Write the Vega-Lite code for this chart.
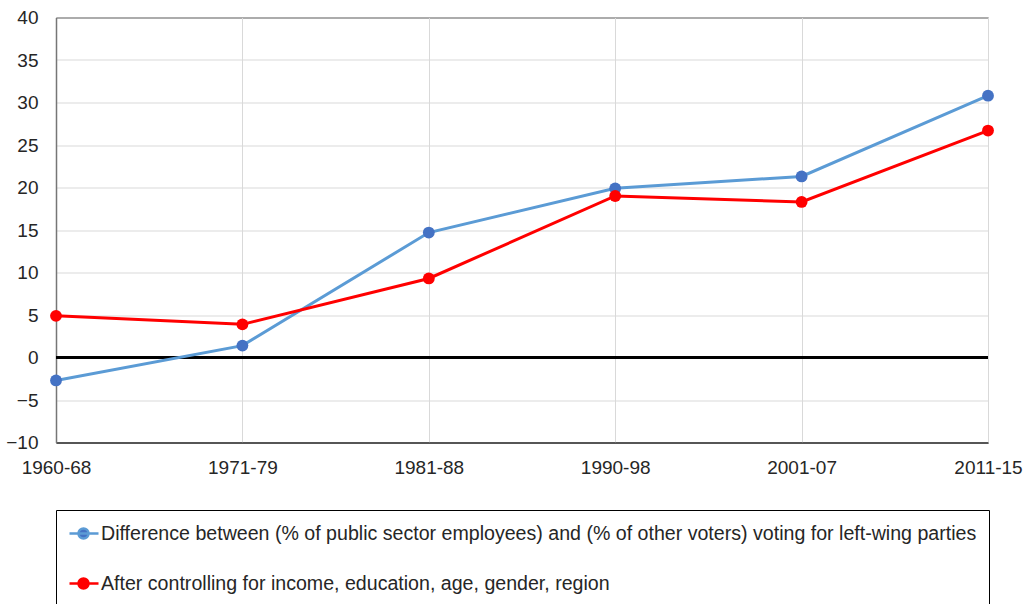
{
  "$schema": "https://vega.github.io/schema/vega-lite/v6.json",
  "width": 932,
  "height": 425,
  "autosize": {"type": "none"},
  "padding": {"left": 56, "top": 17.5, "right": 39, "bottom": 161.5},
  "background": "white",
  "config": {
    "font": "Liberation Sans",
    "view": {"stroke": "#000000", "strokeWidth": 1}
  },
  "data": {
    "values": [
      {"period": "1960-68", "series": "Difference between (% of public sector employees) and (% of other voters) voting for left-wing parties", "value": -2.7},
      {"period": "1971-79", "series": "Difference between (% of public sector employees) and (% of other voters) voting for left-wing parties", "value": 1.4},
      {"period": "1981-88", "series": "Difference between (% of public sector employees) and (% of other voters) voting for left-wing parties", "value": 14.7},
      {"period": "1990-98", "series": "Difference between (% of public sector employees) and (% of other voters) voting for left-wing parties", "value": 19.9},
      {"period": "2001-07", "series": "Difference between (% of public sector employees) and (% of other voters) voting for left-wing parties", "value": 21.3},
      {"period": "2011-15", "series": "Difference between (% of public sector employees) and (% of other voters) voting for left-wing parties", "value": 30.8},
      {"period": "1960-68", "series": "After controlling for income, education, age, gender, region", "value": 4.9},
      {"period": "1971-79", "series": "After controlling for income, education, age, gender, region", "value": 3.9},
      {"period": "1981-88", "series": "After controlling for income, education, age, gender, region", "value": 9.3},
      {"period": "1990-98", "series": "After controlling for income, education, age, gender, region", "value": 19.0},
      {"period": "2001-07", "series": "After controlling for income, education, age, gender, region", "value": 18.3},
      {"period": "2011-15", "series": "After controlling for income, education, age, gender, region", "value": 26.7}
    ]
  },
  "encoding": {
    "x": {
      "field": "period",
      "type": "ordinal",
      "sort": ["1960-68", "1971-79", "1981-88", "1990-98", "2001-07", "2011-15"],
      "scale": {"type": "point", "padding": 0},
      "axis": {
        "title": null,
        "labelAngle": 0,
        "labelFontSize": 19,
        "labelColor": "#262626",
        "labelPadding": 16,
        "ticks": false,
        "domainColor": "#000000",
        "domainWidth": 1,
        "grid": true,
        "gridColor": "#D9D9D9",
        "gridWidth": 1
      }
    },
    "y": {
      "field": "value",
      "type": "quantitative",
      "scale": {"domain": [-10, 40], "nice": false, "zero": false},
      "axis": {
        "title": null,
        "values": [-10, -5, 0, 5, 10, 15, 20, 25, 30, 35, 40],
        "labelFontSize": 19,
        "labelColor": "#262626",
        "labelPadding": 18,
        "ticks": false,
        "domainColor": "#767676",
        "domainWidth": 1.5,
        "gridColor": "#D9D9D9",
        "gridWidth": 1
      }
    }
  },
  "layer": [
    {
      "mark": {"type": "rule", "color": "#000000", "strokeWidth": 2.5},
      "encoding": {"y": {"datum": 0}, "x": {"value": 0}, "x2": {"value": 932}}
    },
    {
      "mark": {"type": "line", "strokeWidth": 3},
      "encoding": {
        "color": {
          "field": "series",
          "type": "nominal",
          "sort": ["Difference between (% of public sector employees) and (% of other voters) voting for left-wing parties", "After controlling for income, education, age, gender, region"],
          "scale": {"range": ["#5B9BD5", "#FF0000"]},
          "legend": {
            "title": null,
            "orient": "none",
            "legendX": 0,
            "legendY": 492.5,
            "direction": "vertical",
            "strokeColor": "#000000",
            "fillColor": "#FFFFFF",
            "padding": 12,
            "rowPadding": 28,
            "labelFontSize": 19.6,
            "labelColor": "#262626",
            "labelLimit": 1000,
            "labelOffset": 10,
            "symbolType": "M-1,0L1.9,0M-0.1,0A0.5,0.5 0 1,0 0.9,0A0.5,0.5 0 1,0 -0.1,0Z",
            "symbolSize": 400,
            "symbolStrokeWidth": 2.5,
            "encode": {
              "symbols": {
                "update": {
                  "fill": {"signal": "datum.label === 'After controlling for income, education, age, gender, region' ? '#FF0000' : '#4472C4'"},
                  "fillOpacity": {"value": 1}
                }
              }
            }
          }
        }
      }
    },
    {
      "mark": {"type": "point", "filled": true, "size": 140, "opacity": 1},
      "encoding": {
        "fill": {
          "field": "series",
          "type": "nominal",
          "sort": ["Difference between (% of public sector employees) and (% of other voters) voting for left-wing parties", "After controlling for income, education, age, gender, region"],
          "scale": {"range": ["#4472C4", "#FF0000"]},
          "legend": null
        }
      }
    }
  ]
}
